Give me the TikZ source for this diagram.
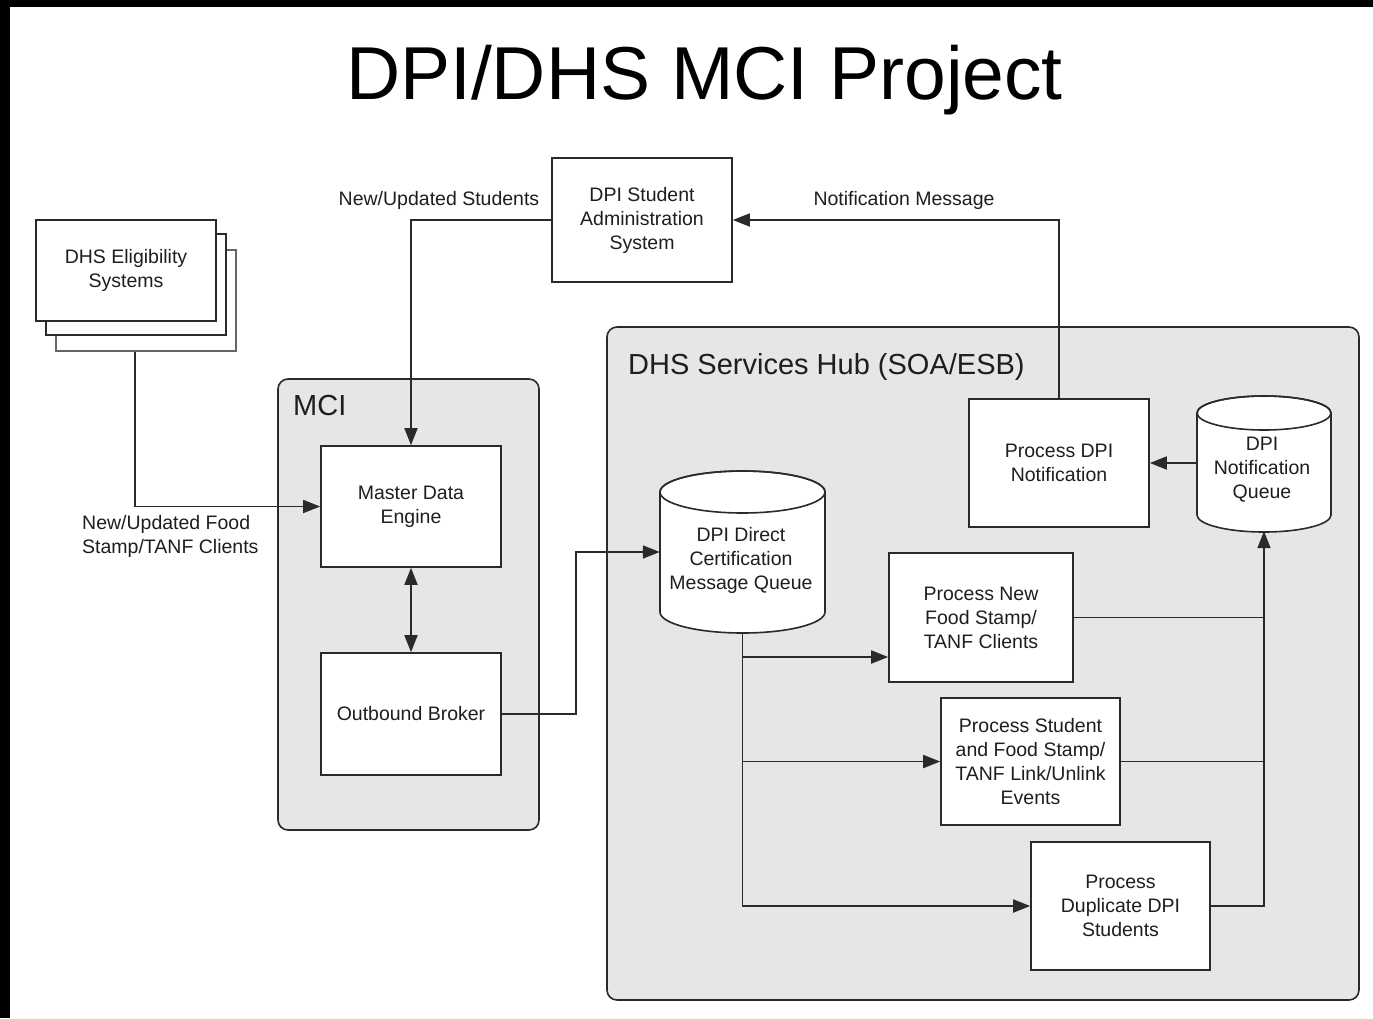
\documentclass[tikz,border=0pt]{standalone}
\usepackage{fontspec}
\setmainfont{Liberation Sans}
\usetikzlibrary{arrows.meta,calc}
\definecolor{ln}{HTML}{2A2A2A}
\definecolor{hub}{HTML}{E6E6E6}
\definecolor{tx}{HTML}{1E1E1E}
\begin{document}
\begin{tikzpicture}[x=1pt,y=-1pt,
  box/.style={draw=ln,line width=1.6pt,fill=white,inner sep=0pt,text=tx,align=center,font=\fontsize{19.5}{24}\selectfont},
  lbl/.style={text=tx,align=center,inner sep=0pt,font=\fontsize{19.5}{24}\selectfont},
  conn/.style={draw=ln,line width=1.8pt},
  arr/.style={conn,-{Triangle[length=17pt,width=13pt]}},
  arrtwo/.style={conn,{Triangle[length=17pt,width=13pt]}-{Triangle[length=17pt,width=13pt]}},
  group/.style={draw=ln,line width=1.6pt,fill=hub,rounded corners=10pt},
  cylbody/.style={draw=ln,line width=1.6pt,fill=white}
]
\useasboundingbox (0,0) rectangle (1373,1018);
\fill[white] (0,0) rectangle (1373,1018);
\fill[black] (0,0) rectangle (1373,7);
\fill[black] (0,0) rectangle (10,1018);

% title
\node[anchor=base,inner sep=0pt,font=\fontsize{75}{80}\selectfont,text=black] (title) at (704.5,99) {DPI/DHS MCI Project};

% containers
\draw[group] (278,379) rectangle (539,830);
\node[anchor=base west,inner sep=0pt,font=\fontsize{29}{32}\selectfont,text=tx] (mcilbl) at (293,415) {MCI};
\draw[group] (607,327) rectangle (1359,1000);
\node[anchor=base west,inner sep=0pt,font=\fontsize{29}{32}\selectfont,text=tx] (hublbl) at (628,374) {DHS Services Hub (SOA/ESB)};

% DHS eligibility stack
\node[box,draw=gray!80!black,minimum width=180pt,minimum height=101pt] (de3) at (146,300.5) {};
\node[box,minimum width=180pt,minimum height=101pt] (de2) at (136,284.5) {};
\node[box,minimum width=180pt,minimum height=101pt] (de1) at (126,270.5) {DHS Eligibility\\Systems};

% boxes
\node[box,minimum width=180pt,minimum height=124pt] (adm) at (642,220) {DPI Student\\Administration\\System};
\node[box,minimum width=180pt,minimum height=121pt] (mde) at (411,506.5) {Master Data\\Engine};
\node[box,minimum width=180pt,minimum height=122pt] (ob) at (411,714) {Outbound Broker};
\node[box,minimum width=180pt,minimum height=128pt] (pn) at (1059,463) {Process DPI\\Notification};
\node[box,minimum width=184pt,minimum height=129pt] (pnf) at (981,617.5) {Process New\\Food Stamp/\\TANF Clients};
\node[box,minimum width=179pt,minimum height=127pt] (ps) at (1030.5,761.5) {Process Student\\and Food Stamp/\\TANF Link/Unlink\\Events};
\node[box,minimum width=179pt,minimum height=128pt] (pd) at (1120.5,906) {Process\\Duplicate DPI\\Students};

% cylinders
\path[cylbody] (660,492) -- (660,612) arc[start angle=180,end angle=0,x radius=82.5,y radius=21] -- (825,492) arc[start angle=0,end angle=-180,x radius=82.5,y radius=21] -- cycle;
\draw[conn,line width=1.6pt] (742.5,492) ellipse [x radius=82.5,y radius=21];
\node[inner sep=0pt,minimum width=165pt,minimum height=162pt] (dq) at (742.5,552) {};
\node[lbl] (dqtxt) at (741,560.5) {DPI Direct\\Certification\\Message Queue};

\path[cylbody] (1197,413) -- (1197,515) arc[start angle=180,end angle=0,x radius=67,y radius=17] -- (1331,413) arc[start angle=0,end angle=-180,x radius=67,y radius=17] -- cycle;
\draw[conn,line width=1.6pt] (1264,413) ellipse [x radius=67,y radius=17];
\node[inner sep=0pt,minimum width=134pt,minimum height=136pt] (nq) at (1264,463) {};
\node[lbl] (nqtxt) at (1262,469.5) {DPI\\Notification\\Queue};

% labels
\node[lbl] (lstud) at (439,200) {New/Updated Students};
\node[lbl] (lnote) at (904,200) {Notification Message};
\node[lbl,align=left,anchor=west] (lfood) at (82,536) {New/Updated Food\\Stamp/TANF Clients};

% connectors
\draw[arr] ([xshift=80pt]de3.south west) |- (mde.west);
\draw[arr] (adm.west) -| (mde.north);
\draw[arr] (pn.north) |- (adm.east);
\draw[arrtwo] (mde.south) -- (ob.north);
\draw[arr] (ob.east) -- ++(74,0) |- (dq.west);
\draw[arr] (nq.west) -- (pn.east);
\draw[arr] (dq.south) |- (pd.west);
\draw[arr] (dq.south |- 0,657) -- (pnf.west |- 0,657);
\draw[arr] (dq.south |- ps.west) -- (ps.west);
\draw[arr] (pd.east) -| (nq.south);
\draw[conn] (pnf.east) -- (pnf.east -| nq.south);
\draw[conn] (ps.east) -- (ps.east -| nq.south);
\end{tikzpicture}
\end{document}
